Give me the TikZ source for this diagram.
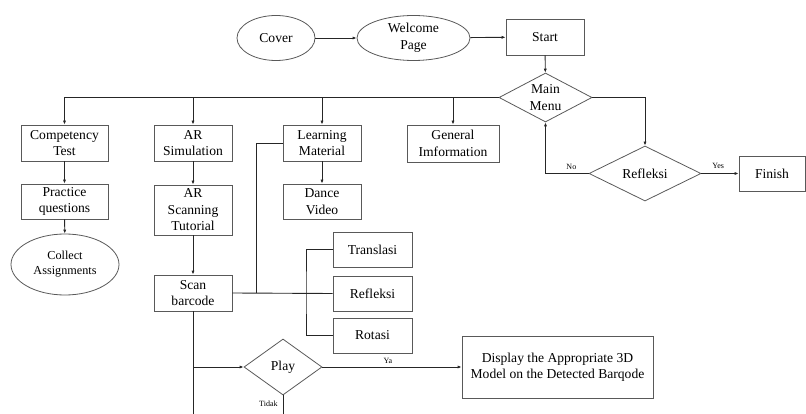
\documentclass[tikz,border=0pt]{standalone}
\usepackage{fontspec}
\setmainfont{Liberation Serif}
\newfontfamily\tnrfont{Liberation Serif}
\usetikzlibrary{shapes.geometric,arrows.meta}
\begin{document}
\begin{tikzpicture}[x=1pt,y=-1pt,
  every node/.style={font=\tnrfont\fontsize{13.6}{16.5}\selectfont, align=center, inner sep=0pt},
  box/.style={draw=black!65, line width=0.8pt, rectangle, minimum width=78pt, minimum height=36pt},
  oval/.style={draw=black!65, line width=0.8pt, ellipse},
  dia/.style={draw=black!65, line width=0.8pt, diamond},
  conn/.style={draw=black!85, line width=0.9pt},
  arr/.style={conn, -{Latex[length=4pt,width=3.2pt]}},
  lbl/.style={font=\tnrfont\fontsize{8}{9}\selectfont}
]
\useasboundingbox (0,0) rectangle (806,414);

% top
\node[oval, minimum width=78pt, minimum height=45pt] (cover) at (276,38) {Cover};
\node[oval, minimum width=113pt, minimum height=45pt] (welcome) at (413.5,38) {Welcome\\Page};
\node[box] (start) at (545,37) {Start};
\node[dia, minimum width=93pt, minimum height=49pt, shape aspect=1.9] (menu) at (545.5,97.5) {Main\\Menu};

% row of branches
\node[box, minimum width=87pt] (comp) at (64.5,143) {Competency\\Test};
\node[box] (arsim) at (193,143) {AR\\Simulation};
\node[box] (learn) at (322,143) {Learning\\Material};
\node[box, minimum width=92pt, minimum height=37pt] (gen) at (453,143.5) {General\\Imformation};

\node[box, minimum width=87pt, minimum height=35pt] (prac) at (64.5,201.5) {Practice\\questions};
\node[oval, minimum width=108pt, minimum height=61pt, font=\tnrfont\fontsize{12.2}{15}\selectfont] (collect) at (65,264.5) {Collect\\Assignments};

\node[box, minimum height=50pt] (arscan) at (193,210) {AR\\Scanning\\Tutorial};
\node[box, minimum height=35pt] (dance) at (322,201.5) {Dance\\Video};
\node[box] (scan) at (193,293) {Scan\\barcode};

\node[box, minimum width=79pt, minimum height=35pt] (trans) at (372.5,249.5) {Translasi};
\node[box, minimum width=79pt, minimum height=35pt] (refbox) at (372.5,293.5) {Refleksi};
\node[box, minimum width=79pt, minimum height=35pt] (rot) at (372.5,335.5) {Rotasi};

\node[dia, minimum width=78pt, minimum height=56pt, shape aspect=1.4] (play) at (283,367) {Play};
\node[box, minimum width=191pt, minimum height=62pt] (disp) at (557.5,367) {Display the Appropriate 3D\\Model on the Detected Barqode};

\node[dia, minimum width=112pt, minimum height=55pt, shape aspect=2] (refl) at (645,173.5) {Refleksi};
\node[box, minimum width=66pt, minimum height=35pt] (finish) at (772,173.5) {Finish};

% coordinates
\coordinate (bl) at (64.5,97.5);
\coordinate (lj) at (256,143);
\coordinate (lb) at (256,293);
\coordinate (sj) at (306,293);
\coordinate (pj) at (193,367);
\coordinate (sbot) at (193,414);
\coordinate (pbot) at (283,414);

% connectors
\draw[arr] (cover) -- (welcome);
\draw[arr] (welcome) -- (start);
\draw[arr] (start) -- (menu);
\draw[conn] (menu.west) -- (bl);
\draw[arr] (bl) -- (comp.north);
\draw[arr] (arsim.north |- bl) -- (arsim.north);
\draw[arr] (learn.north |- bl) -- (learn.north);
\draw[arr] (gen.north |- bl) -- (gen.north);
\draw[arr] (menu.east) -| (refl.north);
\draw[arr] (refl.west) -| node[lbl, pos=0.2, above=3pt] {No} (menu.south);
\draw[arr] (refl.east) -- node[lbl, pos=0.45, above=4pt] {Yes} (finish.west);

\draw[arr] (comp) -- (prac);
\draw[arr] (prac) -- (collect);
\draw[arr] (arsim) -- (arscan);
\draw[arr] (arscan) -- (scan);
\draw[arr] (learn) -- (dance);

\draw[conn] (learn.west) -- (lj) -- (lb);
\draw[conn] (scan.east) -- (refbox.west);
\draw[conn] (trans.west) -| (sj) |- (rot.west);

\draw[conn] (scan.south) -- (sbot);
\draw[arr] (pj) -- (play.west);
\draw[arr] (play.east) -- node[lbl, pos=0.47, above=3pt] {Ya} (disp.west);
\draw[conn] (play.south) -- node[lbl, pos=0.45, left=5pt] {Tidak} (pbot);
\end{tikzpicture}
\end{document}
